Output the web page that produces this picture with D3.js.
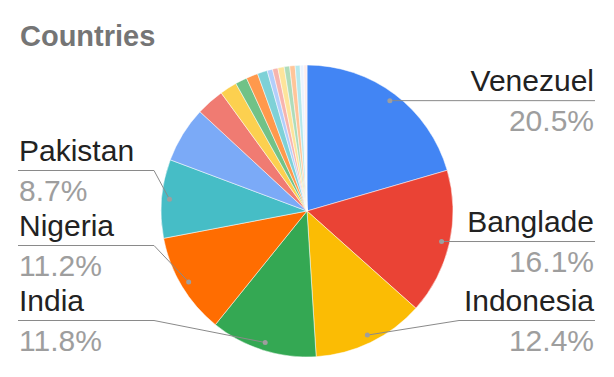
<!DOCTYPE html>
<html>
<head>
<meta charset="utf-8">
<script src="https://cdn.jsdelivr.net/npm/d3@7"></script>
<style>
  body { margin: 0; background: #fff; }
  svg { display: block; font-family: Arial, "Liberation Sans", sans-serif; }
</style>
</head>
<body>
<script>
// chart data
var title = "Countries";
var categories = ["Venezuela", "Bangladesh", "Indonesia", "India", "Nigeria", "Pakistan",
  "Colombia", "Ukraine", "Brazil", "Mexico", "Peru", "Egypt", "Philippines", "Ethiopia",
  "Kenya", "Ghana", "Haiti", "Syria", "Cuba", "Nepal"];
var shares = [20.5, 16.1, 12.4, 11.8, 11.2, 8.7, 6.2, 3.1, 1.9, 1.3, 1.3, 1.1, 0.6, 0.6,
  0.7, 0.6, 0.6, 0.55, 0.4, 0.35];
// text shown on the slice labels (Sheets cuts the long names)
var shownLabels = ["Venezuel", "Banglade", "Indonesia", "India", "Nigeria", "Pakistan"];
var palette = ["#4285f4", "#ea4335", "#fbbc04", "#34a853", "#ff6d01", "#46bdc6", "#7baaf7",
  "#f07b72", "#fcd04f", "#71c287", "#ff994d", "#7ed1d7", "#b3cefb", "#f7b4ae", "#fde49b",
  "#aedcba", "#ffc599", "#b5e8ec", "#ecf3fe", "#fdeceb"];

var W = 614, H = 377;
var cx = 307, cy = 211, R = 146;

var svg = d3.select("body").append("svg").attr("width", W).attr("height", H);

svg.append("text").attr("x", 20).attr("y", 46)
  .attr("font-size", 29).attr("font-weight", "bold").attr("fill", "#757575")
  .text(title);

var data = categories.map(function (c, i) { return { name: c, value: shares[i], idx: i }; });
var total = d3.sum(shares);
var color = d3.scaleOrdinal().domain(categories).range(palette);

var pie = d3.pie().sort(null).value(function (d) { return d.value; });
var arcs = pie(data);
var arc = d3.arc().innerRadius(0).outerRadius(R);

var g = svg.append("g").attr("transform", "translate(" + cx + "," + cy + ")");
g.selectAll("path.slice").data(arcs).enter().append("path")
  .attr("class", "slice")
  .attr("d", arc)
  .attr("fill", function (d) { return color(d.data.name); })
  .attr("stroke", "#fff").attr("stroke-width", 0.5);

// labels
var dotArc = d3.arc().innerRadius(R - 8).outerRadius(R - 8);
var labelled = arcs.slice(0, shownLabels.length).map(function (a, i) {
  var p = dotArc.centroid(a);
  var mid = (a.startAngle + a.endAngle) / 2;
  return { arc: a, text: shownLabels[i], dx: cx + p[0], dy: cy + p[1], right: mid < Math.PI, lineY: cy + p[1] };
});

var maxLineY = 320.5, gap = 75;
[true, false].forEach(function (side) {
  var items = labelled.filter(function (l) { return l.right === side; })
    .sort(function (a, b) { return b.dy - a.dy; });
  var prev = null;
  items.forEach(function (l) {
    l.lineY = Math.min(l.dy, maxLineY);
    if (prev !== null && prev - l.lineY < gap) l.lineY = prev - gap;
    prev = l.lineY;
  });
});

var fmt = d3.format(".1f");
var lg = svg.append("g");
labelled.forEach(function (l) {
  var elbowX = l.right ? cx + R + 6 : cx - R - 7;
  var endX = l.right ? 595 : 18;
  var pts = l.right
    ? [[l.dx, l.dy], [Math.max(elbowX, l.dx), l.lineY], [endX, l.lineY]]
    : [[endX, l.lineY], [Math.min(elbowX, l.dx), l.lineY], [l.dx, l.dy]];
  lg.append("path").attr("d", d3.line()(pts))
    .attr("fill", "none").attr("stroke", "#8a8a8a").attr("stroke-width", 1);
  lg.append("circle").attr("cx", l.dx).attr("cy", l.dy).attr("r", 2.5).attr("fill", "#9e9e9e");
  var tx = l.right ? 594 : 19;
  var anchor = l.right ? "end" : "start";
  lg.append("text").attr("x", tx).attr("y", l.lineY - 9.5)
    .attr("text-anchor", anchor).attr("font-size", 30).attr("fill", "#222")
    .text(l.text);
  lg.append("text").attr("x", tx).attr("y", l.lineY + 30)
    .attr("text-anchor", anchor).attr("font-size", 30).attr("fill", "#9e9e9e")
    .text(fmt(l.arc.data.value / total * 100) + "%");
});
</script>
</body>
</html>
